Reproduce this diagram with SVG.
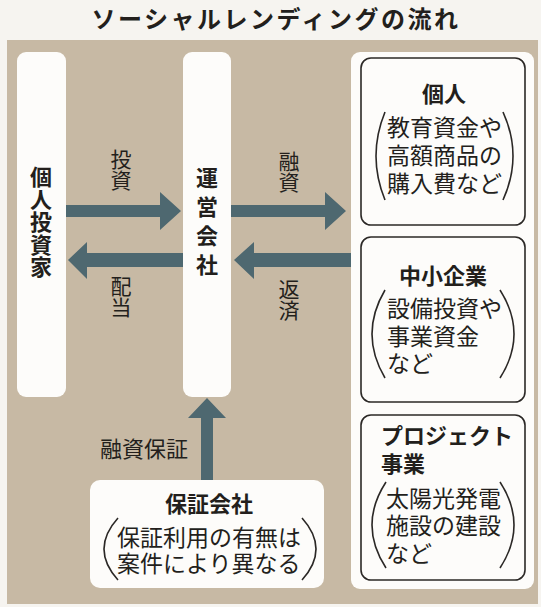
<svg xmlns="http://www.w3.org/2000/svg" width="541" height="607" viewBox="0 0 541 607">
<style>
text{font-family:"Noto Sans CJK JP","Noto Sans CJK SC",sans-serif;fill:#231f1c}
.b{font-weight:bold}
.t{font-size:23px}
.h{font-size:22px;font-weight:bold}
.v{writing-mode:vertical-rl;font-size:21px}
.wbox{fill:#fdfcfa}
.ibox{fill:#fdfcfa;stroke:#2b2826;stroke-width:1.6}
.par{fill:none;stroke:#2b2826;stroke-width:1.6}
.arr{fill:#4e6870}
</style>
<rect x="0" y="0" width="541" height="607" fill="#f6f4f0"/>
<rect x="7" y="40" width="531" height="564" fill="#c7b9a4"/>
<text x="276" y="28" text-anchor="middle" class="b" style="font-size:24px;letter-spacing:2.5px">ソーシャルレンディングの流れ</text>

<g id="connectors">
<polygon class="arr" points="66,205 160,205 160,192 181,211 160,230 160,217 66,217"/>
<polygon class="arr" points="183,253 87,253 87,242 68,260 87,279 87,267 183,267"/>
<polygon class="arr" points="231,205 325,205 325,192 346,211 325,230 325,217 231,217"/>
<polygon class="arr" points="351,253 254,253 254,242 234,260 254,279 254,267 351,267"/>
<polygon class="arr" points="201,480 201,418 188,418 207,398 226,418 213,418 213,480"/>
<text class="v" x="121" y="149">投資</text>
<text class="v" x="121" y="276">配当</text>
<text class="v" x="289" y="151">融資</text>
<text class="v" x="289" y="279">返済</text>
<text x="100" y="457" style="font-size:22px">融資保証</text>
</g>

<g id="investor">
<rect class="wbox" x="17" y="52" width="49" height="345" rx="9"/>
<text x="41" y="166" class="b" style="writing-mode:vertical-rl;font-size:22px;letter-spacing:0.5px">個人投資家</text>
</g>

<g id="operator">
<rect class="wbox" x="183" y="52" width="48" height="345" rx="9"/>
<text x="207" y="167" class="b" style="writing-mode:vertical-rl;font-size:22px;letter-spacing:7px">運営会社</text>
</g>

<g id="borrowers">
<rect class="wbox" x="351" y="52" width="183" height="537" rx="9"/>
</g>

<g id="individual">
<rect class="ibox" x="361" y="58" width="164" height="167" rx="10"/>
<text x="444" y="102" text-anchor="middle" class="h">個人</text>
<path class="par" d="M385,112 Q367,156 385,200"/>
<path class="par" d="M503,112 Q523,156 503,200"/>
<text x="387" y="136" class="t">教育資金や</text>
<text x="387" y="164" class="t">高額商品の</text>
<text x="387" y="192" class="t">購入費など</text>
</g>

<g id="sme">
<rect class="ibox" x="361" y="237" width="164" height="165" rx="10"/>
<text x="443" y="284" text-anchor="middle" class="h">中小企業</text>
<path class="par" d="M385,290 Q359,334 385,378"/>
<path class="par" d="M500,290 Q528,334 500,378"/>
<text x="387" y="317" class="t">設備投資や</text>
<text x="387" y="345" class="t">事業資金</text>
<text x="387" y="372" class="t">など</text>
</g>

<g id="project">
<rect class="ibox" x="361" y="415" width="164" height="165" rx="10"/>
<text x="381" y="444" class="h">プロジェクト</text>
<text x="381" y="472" class="h">事業</text>
<path class="par" d="M386,482 Q358,525 386,568"/>
<path class="par" d="M500,482 Q528,525 500,568"/>
<text x="386" y="507" class="t">太陽光発電</text>
<text x="386" y="534" class="t">施設の建設</text>
<text x="386" y="562" class="t">など</text>
</g>

<g id="guarantor">
<rect class="wbox" x="90" y="480" width="234" height="108" rx="10"/>
<text x="209" y="512" text-anchor="middle" class="h">保証会社</text>
<path class="par" d="M118,518 Q90,549 118,580"/>
<path class="par" d="M302,518 Q330,549 302,580"/>
<text x="117" y="546" class="t">保証利用の有無は</text>
<text x="117" y="572" class="t">案件により異なる</text>
</g>
</svg>
